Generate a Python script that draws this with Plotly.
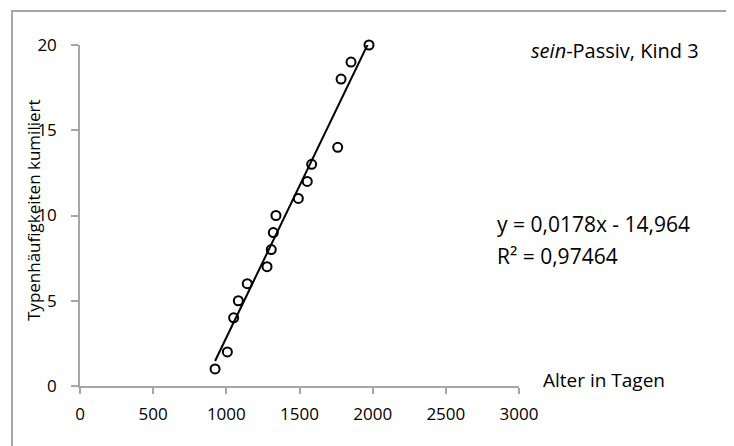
import plotly.graph_objects as go

# Alter in Tagen / kumulierte Typenhäufigkeit
alter_tage = [923, 1007, 1050, 1082, 1143, 1278, 1307, 1321, 1339, 1492,
              1553, 1583, 1761, 1784, 1852, 1975]
typen_kum = [1, 2, 4, 5, 6, 7, 8, 9, 10, 11, 12, 13, 14, 18, 19, 20]

# linear trend as shown in the chart
slope = 0.0178
intercept = -14.964
r_squared = "0,97464"

x_ticks = [0, 500, 1000, 1500, 2000, 2500, 3000]
y_ticks = [0, 5, 10, 15, 20]

FONT = "Open Sans"
GREY = "#a6a6a6"


# paper positions from reference pixels (plot area 80..519 x, 386..45 y)
def px(x):
    return (x - 80) / 439


def py(y):
    return (386 - y) / 341


trend_x = [min(alter_tage), max(alter_tage)]
trend_y = [slope * v + intercept for v in trend_x]

fig = go.Figure()
fig.add_trace(go.Scatter(
    x=trend_x, y=trend_y, mode="lines",
    line=dict(color="black", width=2),
    cliponaxis=False, hoverinfo="skip",
))
fig.add_trace(go.Scatter(
    x=alter_tage, y=typen_kum, mode="markers",
    marker=dict(symbol="circle-open", size=9, color="black",
                line=dict(color="black", width=2)),
    cliponaxis=False,
))

# page body has an 8px margin, so the figure is 8px smaller each way
fig.update_layout(
    width=726, height=438,
    margin=dict(l=72, r=215, t=37, b=60),
    paper_bgcolor="white", plot_bgcolor="white",
    showlegend=False,
    font=dict(family=FONT, size=17, color="black"),
    xaxis=dict(
        range=[0, 3000], tickvals=x_ticks, showgrid=False, zeroline=False,
        showline=True, linecolor=GREY, linewidth=1.5,
        ticks="outside", ticklen=6, tickcolor=GREY, tickwidth=1.5,
        ticklabelstandoff=6, tickfont=dict(size=17),
    ),
    yaxis=dict(
        range=[0, 20], tickvals=y_ticks, showgrid=False, zeroline=False,
        showline=True, linecolor=GREY, linewidth=1.5,
        ticks="outside", ticklen=7, tickcolor=GREY, tickwidth=1.5,
        ticklabelstandoff=11, tickfont=dict(size=17),
    ),
)

# outer chart border
fig.add_shape(type="rect", xref="paper", yref="paper",
              x0=px(12), x1=px(729), y0=py(470), y1=py(11),
              line=dict(color=GREY, width=2), layer="below")

annots = [
    dict(text="<i>sein</i>-Passiv, Kind 3", x=px(529), y=py(51), size=20),
    dict(text="y = 0,0178x - 14,964", x=px(495), y=py(224), size=21),
    dict(text="R² = " + r_squared, x=px(495), y=py(256), size=21),
    dict(text="Alter in Tagen", x=px(541), y=py(380), size=19),
]
for a in annots:
    fig.add_annotation(text=a["text"], x=a["x"], y=a["y"], xref="paper",
                       yref="paper", xanchor="left", yanchor="middle",
                       showarrow=False, font=dict(size=a["size"]))

fig.add_annotation(text="Typenhäufigkeiten kumiliert", x=px(33), y=py(210),
                   xref="paper", yref="paper", textangle=-90,
                   xanchor="center", yanchor="middle",
                   showarrow=False, font=dict(size=17))

fig.write_html("out.html")
